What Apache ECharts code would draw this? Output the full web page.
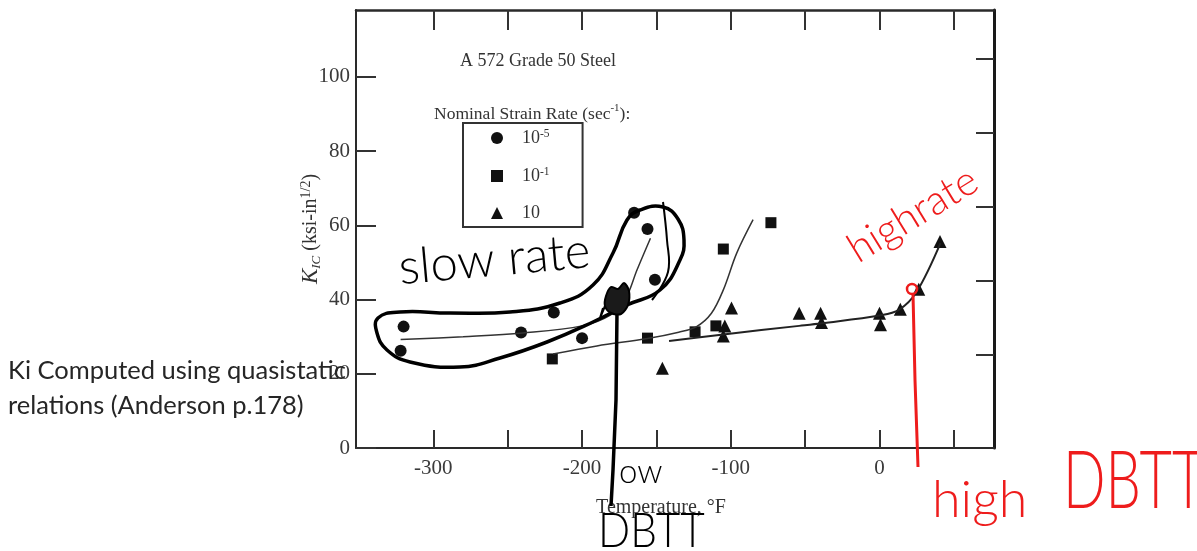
<!DOCTYPE html>
<html><head><meta charset="utf-8">
<script src="https://cdn.jsdelivr.net/npm/echarts@6/dist/echarts.min.js"></script>
<style>html,body{margin:0;padding:0;background:#fff}#c{width:1197px;height:551px}</style>
</head><body><div id="c"></div>
<script>
// ---- data ----
const slowT = [-322, -320, -241, -219, -200, -176, -165, -156, -151];
const slowK = [26.2, 32.7, 31.1, 36.5, 29.6, 39, 63.4, 59, 45.3];
const midT = [-220, -156, -124, -110, -105, -73];
const midK = [24, 29.6, 31.3, 32.9, 53.6, 60.7];
const fastT = [-146, -105, -104, -99.5, -54, -39.6, -39, 0, 0.7, 14, 26.4, 40.7];
const fastK = [21.5, 30.2, 32.9, 37.7, 36.3, 36.3, 33.8, 36.3, 33.2, 37.4, 42.8, 55.6];
const slowFitT = [-322, -280, -240, -200, -181, -171, -163, -154];
const slowFitK = [29.2, 30.0, 31.0, 32.9, 35.8, 40, 48, 56.5];
const midFitT = [-219.5, -190, -156, -135, -123, -113, -105, -96, -85];
const midFitK = [25.3, 27.5, 29.5, 31.2, 32.7, 36.3, 42.6, 52.5, 61.5];
const fastFitT = [-141.5, -105, -54, -39, 0, 13, 25, 41];
const fastFitK = [28.8, 30.6, 32.9, 33.6, 35.7, 37.2, 42.1, 55.2];
const xLabelTicks = [-300, -200, -100, 0];
const xMinorTicks = [-300, -250, -200, -150, -100, -50, 0, 50];
const yTicks = [0, 20, 40, 60, 80, 100];
const yRightTicks = [25, 45, 65, 85, 105];
const legendNames = ['r5', 'r1', 'r10'];
const legendLabels = {r5: '{b|10}{s|-5}', r1: '{b|10}{s|-1}', r10: '{b|10}'};

const pairs = (xs, ys) => xs.map((x, i) => [x, ys[i]]);
const serif = 'Liberation Serif';
const ink = '#111';
const axisCol = '#2a2a2a';

const chart = echarts.init(document.getElementById('c'), null, {renderer: 'canvas'});

const hand = 'Lato';
const option = {
  backgroundColor: '#fff',
  animation: false,
  grid: {left: 356, right: 203, top: 10, bottom: 103, containLabel: false},
  title: [
    {text: 'A 572 Grade 50 Steel', left: 455, top: 47,
     textStyle: {fontFamily: serif, fontSize: 18, fontWeight: 'normal', color: '#333'}},
    {text: '{a|Nominal Strain Rate (sec}{s|-1}{a|):}', left: 429, top: 98,
     textStyle: {fontWeight: 'normal', rich: {
       a: {fontFamily: serif, fontSize: 17.5, fontWeight: 'normal', color: '#333', lineHeight: 22},
       s: {fontFamily: serif, fontSize: 11, fontWeight: 'normal', color: '#333', verticalAlign: 'top', lineHeight: 12}
     }}}
  ],
  legend: {
    left: 463, top: 123, orient: 'vertical', data: legendNames,
    itemWidth: 12, itemHeight: 12, itemGap: 19,
    padding: [5, 33, 5, 28], borderColor: '#333', borderWidth: 2,
    formatter: n => legendLabels[n],
    textStyle: {padding: [0, 0, 0, 14], rich: {
      b: {fontFamily: serif, fontSize: 18, color: '#333', lineHeight: 20},
      s: {fontFamily: serif, fontSize: 11.5, color: '#333', verticalAlign: 'top', lineHeight: 12}
    }}
  },
  xAxis: [
    {type: 'value', position: 'bottom', min: -352, max: 77,
     name: 'Temperature, °F', nameLocation: 'middle', nameGap: 50,
     nameTextStyle: {fontFamily: serif, fontSize: 20, color: '#333', padding: [0, 28, 0, 0]},
     axisLine: {show: true, onZero: false, lineStyle: {color: axisCol, width: 2}},
     axisTick: {show: true, inside: true, length: 18, customValues: xMinorTicks, lineStyle: {color: '#333', width: 2}},
     axisLabel: {customValues: xLabelTicks, margin: 10, fontFamily: serif, fontSize: 21, color: '#3a3a3a'},
     splitLine: {show: false}},
    {type: 'value', position: 'top', min: -352, max: 77,
     axisLine: {show: true, onZero: false, lineStyle: {color: axisCol, width: 2.5}},
     axisTick: {show: true, inside: true, length: 20, customValues: xMinorTicks, lineStyle: {color: '#333', width: 2}},
     axisLabel: {show: false}, splitLine: {show: false}}
  ],
  yAxis: [
    {type: 'value', position: 'left', min: 0, max: 118,
     name: '{k|K}{sub|IC}{t| (ksi-in}{sup|1/2}{t|)}', nameLocation: 'middle', nameGap: 33, nameRotate: 90,
     nameMoveOverlap: false,
     nameTextStyle: {rich: {
       k: {fontFamily: serif, fontStyle: 'italic', fontSize: 23, color: '#333', lineHeight: 24},
       sub: {fontFamily: serif, fontStyle: 'italic', fontSize: 13, color: '#333', verticalAlign: 'bottom', lineHeight: 12},
       t: {fontFamily: serif, fontSize: 20, color: '#333', lineHeight: 24},
       sup: {fontFamily: serif, fontSize: 14, color: '#333', verticalAlign: 'top', lineHeight: 13}
     }},
     axisLine: {show: true, onZero: false, lineStyle: {color: axisCol, width: 2}},
     axisTick: {show: true, inside: true, length: 20, customValues: yTicks, lineStyle: {color: '#333', width: 2}},
     axisLabel: {customValues: yTicks, margin: 6, fontFamily: serif, fontSize: 21, color: '#3a3a3a'},
     splitLine: {show: false}},
    {type: 'value', position: 'right', min: 0, max: 118,
     axisLine: {show: true, onZero: false, lineStyle: {color: '#1a1a1a', width: 3}},
     axisTick: {show: true, inside: true, length: 18, customValues: yRightTicks, lineStyle: {color: '#333', width: 2}},
     axisLabel: {show: false}, splitLine: {show: false}}
  ],
  series: [
    {name: 'fit5', type: 'line', data: pairs(slowFitT, slowFitK), smooth: 0.35, showSymbol: false, silent: true,
     lineStyle: {color: '#333', width: 1.5}},
    {name: 'fit1', type: 'line', data: pairs(midFitT, midFitK), smooth: 0.35, showSymbol: false, silent: true,
     lineStyle: {color: '#333', width: 1.5}},
    {name: 'fit10', type: 'line', data: pairs(fastFitT, fastFitK), smooth: 0.35, showSymbol: false, silent: true,
     lineStyle: {color: '#222', width: 2}},
    {name: 'r5', type: 'scatter', data: pairs(slowT, slowK), symbol: 'circle', symbolSize: 12, itemStyle: {color: ink, opacity: 1}},
    {name: 'r1', type: 'scatter', data: pairs(midT, midK), symbol: 'rect', symbolSize: 11, itemStyle: {color: ink, opacity: 1}},
    {name: 'r10', type: 'scatter', data: pairs(fastT, fastK), symbol: 'triangle', symbolSize: 13, itemStyle: {color: ink, opacity: 1}}
  ],
  graphic: [
    // slide text
    {type: 'text', left: 8, top: 358, z: 100, style: {text: 'Ki Computed using quasistatic', fontFamily: 'Lato', fontSize: 25.5, fill: '#262626'}},
    {type: 'text', left: 8, top: 393, z: 100, style: {text: 'relations (Anderson p.178)', fontFamily: 'Lato', fontSize: 25.5, fill: '#262626'}},
    // black handwritten annotations
    {type: 'polygon', z: 100, shape: {smooth: 0.45, points: [[378,318],[400,312],[450,313],[510,312],[560,303],[593,285],[613,253],[627,220],[640,210],[663,207],[678,219],[684,240],[680,260],[660,290],[627,305],[593,322],[547,342],[500,358],[460,367],[410,362],[387,350],[377,333]]},
     style: {fill: 'none', stroke: '#000', lineWidth: 3.5}},
    {type: 'polyline', z: 100, shape: {smooth: 0.4, points: [[663,202],[667,240],[668,272],[652,300]]}, style: {fill: 'none', stroke: '#000', lineWidth: 2}},
    {type: 'polygon', z: 101, shape: {smooth: 0.3, points: [[606,296],[611,287],[618,289],[624,283],[629,291],[628,305],[621,314],[611,313],[605,306]]}, style: {fill: '#1a1a1a', stroke: '#000', lineWidth: 2}},
    {type: 'polyline', z: 100, shape: {points: [[605,306],[600,318],[603,308]]}, style: {fill: 'none', stroke: '#000', lineWidth: 2}},
    {type: 'polyline', z: 100, shape: {points: [[617,312],[616,400],[613,470],[611,506]]}, style: {fill: 'none', stroke: '#000', lineWidth: 3.5}},
    {type: 'text', z: 100, x: 401, y: 293, rotation: 0.09, style: {text: 'slow rate', fontFamily: hand, fontWeight: 300, fontSize: 49, fill: '#000', textVerticalAlign: 'bottom'}},
    {type: 'text', z: 100, x: 619, y: 489, style: {text: 'ow', fontFamily: hand, fontWeight: 300, fontSize: 33, fill: '#000', textVerticalAlign: 'bottom'}},
    {type: 'text', z: 100, x: 598, y: 555, scaleX: 0.9, style: {text: 'DBTT', fontFamily: hand, fontWeight: 300, fontSize: 47, fill: '#000', textVerticalAlign: 'bottom'}},
    // red handwritten annotations
    {type: 'text', z: 100, x: 862, y: 270, rotation: 0.55, style: {text: 'highrate', fontFamily: hand, fontWeight: 300, fontSize: 41, fill: '#ee1c1c', textVerticalAlign: 'bottom'}},
    {type: 'circle', z: 100, shape: {cx: 912, cy: 289, r: 5}, style: {fill: 'none', stroke: '#ee1c1c', lineWidth: 2.5}},
    {type: 'polyline', z: 100, shape: {points: [[913,294],[915,380],[918,467]]}, style: {fill: 'none', stroke: '#ee1c1c', lineWidth: 3}},
    {type: 'text', z: 100, x: 932, y: 526, style: {text: 'high', fontFamily: hand, fontWeight: 300, fontSize: 52, fill: '#ee1c1c', textVerticalAlign: 'bottom'}},
    {type: 'text', z: 100, x: 1063, y: 522, scaleX: 0.7, style: {text: 'DBTT', fontFamily: hand, fontWeight: 300, fontSize: 80, fill: '#ee1c1c', textVerticalAlign: 'bottom'}}
  ]
};
chart.setOption(option);
</script>
</body></html>
